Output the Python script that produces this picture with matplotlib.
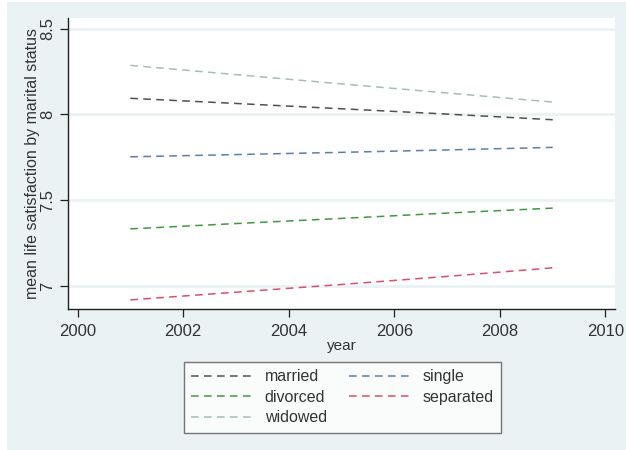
import numpy as np
import matplotlib.pyplot as plt
from matplotlib.patches import Rectangle

plt.rcParams['font.family'] = ['Liberation Sans', 'DejaVu Sans']

years = [2001, 2003, 2005, 2007, 2009]
married   = [8.094, 8.064, 8.033, 8.002, 7.969]
single    = [7.753, 7.766, 7.779, 7.793, 7.808]
divorced  = [7.333, 7.364, 7.394, 7.425, 7.454]
separated = [6.919, 6.964, 7.009, 7.056, 7.106]
widowed   = [8.286, 8.232, 8.178, 8.125, 8.072]

xticks = [2000, 2002, 2004, 2006, 2008, 2010]
yticks = [7, 7.5, 8, 8.5]
ytlabels = ['7', '7.5', '8', '8.5']

bg = '#eaf2f3'
fig = plt.figure(figsize=(6.26, 4.5), dpi=100, facecolor='white')
fig.patches.append(Rectangle((7/626, 0), 1 - 7/626, 1 - 2/450, transform=fig.transFigure,
                             facecolor=bg, edgecolor='none', zorder=-10))

# axes box in pixels: left 68, right 615, top 18, bottom 309
ax = fig.add_axes([68/626, 1 - 309/450, (615-68)/626, (309-18)/450])
ax.set_facecolor('white')

dash = (0, (5, 3.5))
lw = 1.1
h_mar, = ax.plot(years, married, color='#505050', ls=dash, lw=lw, label='married')
h_sin, = ax.plot(years, single, color='#5b7fa6', ls=dash, lw=lw, label='single')
h_div, = ax.plot(years, divorced, color='#3c9c3c', ls=dash, lw=lw, label='divorced')
h_sep, = ax.plot(years, separated, color='#d9506c', ls=dash, lw=lw, label='separated')
h_wid, = ax.plot(years, widowed, color='#a6bdb8', ls=dash, lw=lw, label='widowed')

ax.set_xlim(1999.82, 2010.18)
ax.set_ylim(6.866, 8.562)
ax.set_xticks(xticks)
ax.set_yticks(yticks)
ax.set_yticklabels(ytlabels, rotation=90, va='center')
for y in yticks:
    ax.axhline(y, color=bg, lw=2, zorder=0)

for s in ['top', 'right']:
    ax.spines[s].set_visible(False)
for s in ['left', 'bottom']:
    ax.spines[s].set_color('#202020')
    ax.spines[s].set_linewidth(1.0)
ax.tick_params(axis='both', colors='#202020', labelcolor='#333333', labelsize=12,
               length=6, width=0.9)
ax.tick_params(axis='y', pad=3)
ax.tick_params(axis='x', pad=5)

ax.set_xlabel('year', fontsize=11, color='#333333', labelpad=0)
ax.set_ylabel('mean life satisfaction by marital status', fontsize=11.5,
              color='#333333', labelpad=0)

# row-major order like the original: married/single, divorced/separated, widowed
handles = [h_mar, h_div, h_wid, h_sin, h_sep]
leg = fig.legend(handles, [h.get_label() for h in handles], ncol=2, loc='upper left',
                 bbox_to_anchor=(184/626, 1 - 362/450),
                 frameon=True, fontsize=11.5, handlelength=3.9, handletextpad=0.7,
                 columnspacing=1.4, labelspacing=0.35, borderpad=0.45, fancybox=False,
                 borderaxespad=0, labelcolor='#333333')
leg.get_frame().set_edgecolor('#555555')
leg.get_frame().set_linewidth(1.0)

plt.savefig('out.png', dpi=100, facecolor=fig.get_facecolor())
